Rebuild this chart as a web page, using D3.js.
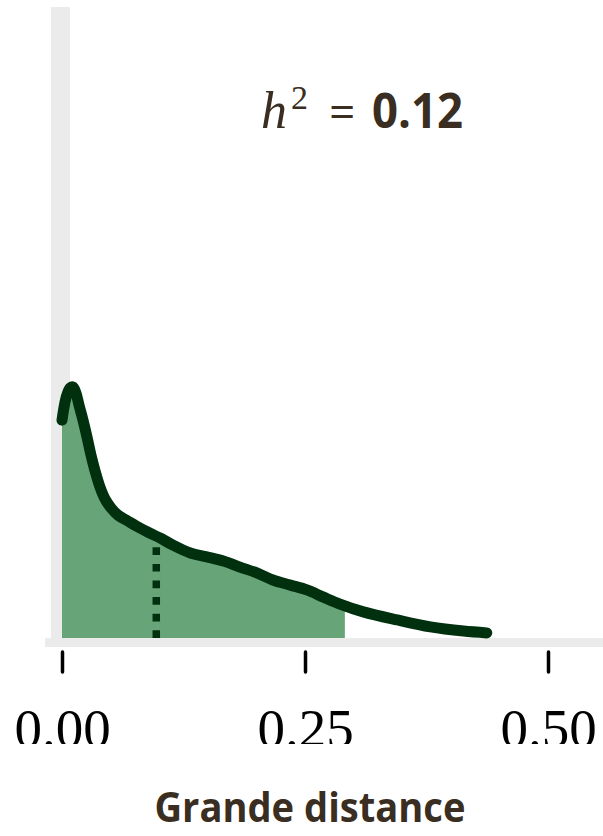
<!DOCTYPE html>
<html>
<head>
<meta charset="utf-8">
<script src="https://cdn.jsdelivr.net/npm/d3@7"></script>
<style>
  body { margin: 0; background: #fff; }
  svg { display: block; }
</style>
</head>
<body>
<div id="svg"></div>
<script>
// density of distances (x = distance, y = density)
let distX = [0, 0.0041, 0.0082, 0.0113, 0.0144, 0.0175, 0.0216, 0.0257, 0.0298, 0.034, 0.0391,
  0.0442, 0.0504, 0.0576, 0.0679, 0.0802, 0.0905, 0.1008, 0.1142, 0.132, 0.149, 0.166, 0.183,
  0.201, 0.217, 0.235, 0.252, 0.269, 0.286, 0.310, 0.345, 0.379, 0.413, 0.437]
let densY = [7.25, 7.99, 8.32, 8.35, 8.15, 7.75, 7.25, 6.69, 6.09, 5.56, 5.02,
  4.63, 4.33, 4.09, 3.89, 3.66, 3.49, 3.33, 3.09, 2.83, 2.70, 2.56, 2.36,
  2.16, 1.93, 1.76, 1.60, 1.36, 1.13, 0.87, 0.60, 0.37, 0.23, 0.17]
let fillLimit = 0.291
let markerX = 0.097
let tickValues = [0, 0.25, 0.5]
let tickLabels = ['0.00', '0.25', '0.50']
let h2Value = '0.12'
let title = 'Grande distance'

let width = 603, height = 836
let textColor = '#3a2d21'
let lineColor = '#00300e'
let fillColor = '#67a578'

let svg = d3.select('#svg')
  .append('svg')
  .attr('width', width)
  .attr('height', height)

let xScale = d3.scaleLinear().domain([0, 0.5]).range([62, 548])
let yScale = d3.scaleLinear().domain([0, 21]).range([638, 7])

let data = distX.map((x, i) => ({x: x, y: densY[i]}))

// gray axis bars
svg.append('rect')
  .attr('x', 51).attr('y', 7)
  .attr('width', 19).attr('height', 640)
  .style('fill', '#ebebeb')
svg.append('rect')
  .attr('x', 45).attr('y', yScale(0))
  .attr('width', width - 45).attr('height', 9)
  .style('fill', '#ebebeb')

// clip for filled part
svg.append('clipPath')
  .attr('id', 'fill-clip')
  .append('rect')
  .attr('x', xScale(0))
  .attr('y', 0)
  .attr('width', xScale(fillLimit) - xScale(0))
  .attr('height', yScale(0))

let area = d3.area()
  .x(d => xScale(d.x))
  .y0(yScale(0))
  .y1(d => yScale(d.y))
  .curve(d3.curveCatmullRom.alpha(0.5))

svg.append('path')
  .datum(data)
  .attr('d', area)
  .attr('clip-path', 'url(#fill-clip)')
  .style('fill', fillColor)

// dotted marker line
let markerY = d3.scaleLinear().domain(distX).range(densY)(markerX)
svg.append('line')
  .attr('x1', xScale(markerX)).attr('x2', xScale(markerX))
  .attr('y1', yScale(0)).attr('y2', yScale(markerY))
  .style('stroke', lineColor)
  .style('stroke-width', 7.5)
  .style('stroke-dasharray', '7.7 8.9')

let line = d3.line()
  .x(d => xScale(d.x))
  .y(d => yScale(d.y))
  .curve(d3.curveCatmullRom.alpha(0.5))

svg.append('path')
  .datum(data)
  .attr('d', line)
  .style('fill', 'none')
  .style('stroke', lineColor)
  .style('stroke-width', 11)
  .style('stroke-linecap', 'round')
  .style('stroke-linejoin', 'round')

// x axis ticks + labels (labels are cut at the bottom)
svg.append('clipPath')
  .attr('id', 'label-clip')
  .append('rect')
  .attr('x', 0).attr('y', 0)
  .attr('width', width).attr('height', 744)

let axis = svg.append('g')
  .attr('clip-path', 'url(#label-clip)')
  .append('g')
  .attr('transform', `translate(0, 652)`)
  .call(d3.axisBottom(xScale)
    .tickValues(tickValues)
    .tickSize(20)
    .tickPadding(75)
    .tickFormat((d, i) => tickLabels[i]))

axis.select('.domain').remove()
axis.selectAll('.tick line')
  .style('stroke', '#000')
  .style('stroke-width', 3.5)
  .style('stroke-linecap', 'round')
axis.selectAll('.tick text')
  .attr('dy', 0)
  .style('font-family', '"Liberation Serif", serif')
  .style('font-size', '55px')
  .style('fill', '#000')

// h^2 annotation
let h2 = svg.append('text')
  .attr('y', 128)
  .style('fill', textColor)
h2.append('tspan')
  .attr('x', 261)
  .text('h')
  .style('font-family', '"Liberation Serif", serif')
  .style('font-style', 'italic')
  .style('font-size', '52px')
h2.append('tspan')
  .attr('x', 291).attr('y', 109)
  .text('2')
  .style('font-family', '"Liberation Serif", serif')
  .style('font-size', '34px')
h2.append('tspan')
  .attr('x', 329).attr('y', 128)
  .text('=')
  .style('font-family', '"Open Sans", sans-serif')
  .style('font-size', '46px')
h2.append('tspan')
  .attr('x', 372)
  .text(h2Value)
  .style('font-family', '"Open Sans", sans-serif')
  .style('font-weight', 'bold')
  .style('font-size', '48px')
  .attr('textLength', 91)
  .attr('lengthAdjust', 'spacingAndGlyphs')

svg.append('text')
  .text(title)
  .attr('x', 310)
  .attr('y', 822)
  .attr('textLength', 311)
  .attr('lengthAdjust', 'spacingAndGlyphs')
  .style('text-anchor', 'middle')
  .style('font-family', '"Open Sans", sans-serif')
  .style('font-weight', 'bold')
  .style('font-size', '41px')
  .style('fill', textColor)
</script>
</body>
</html>
